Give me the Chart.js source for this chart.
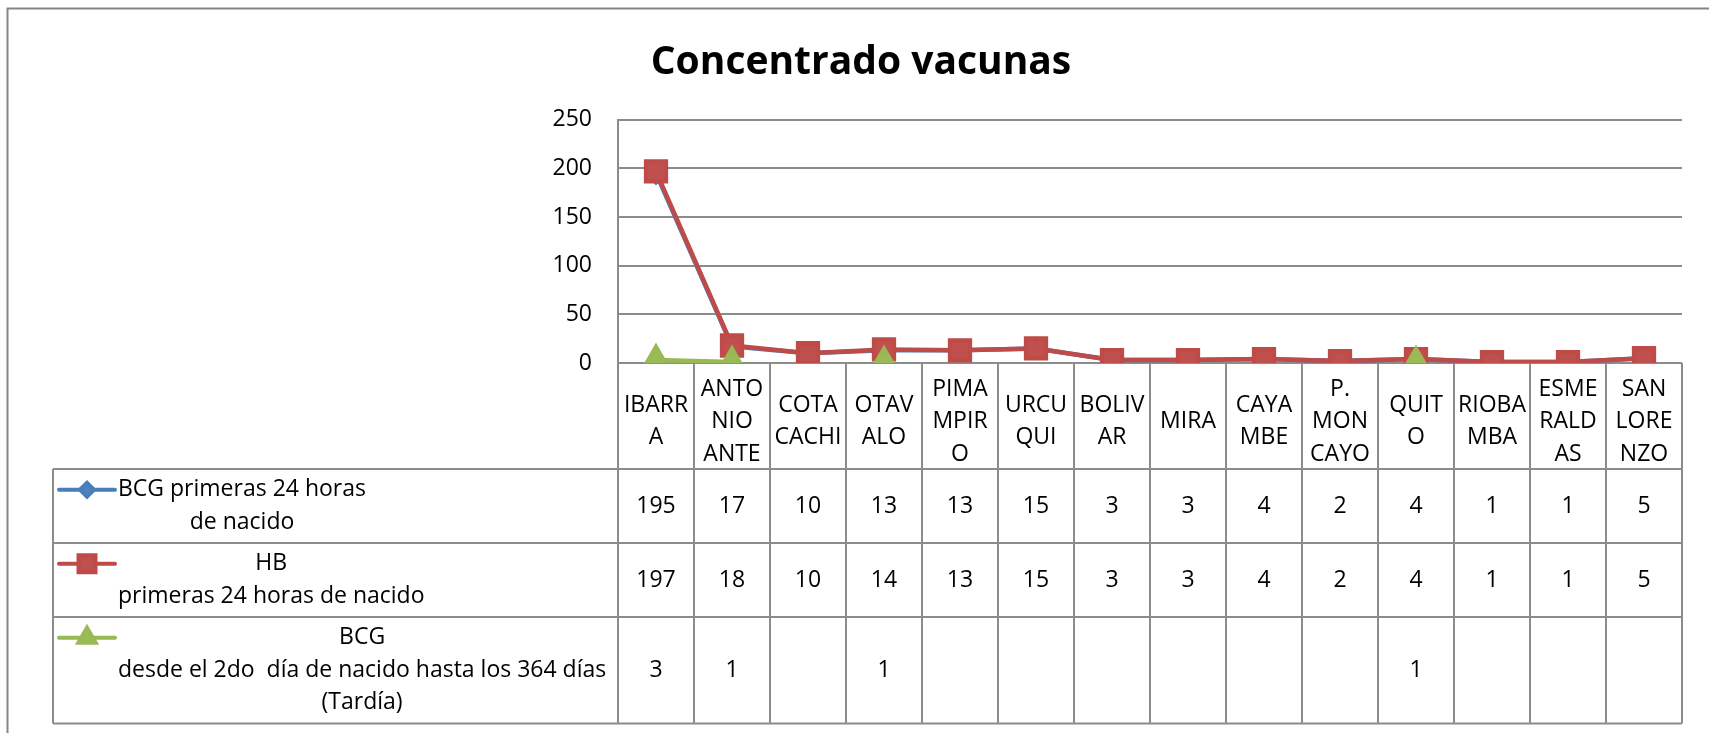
<!DOCTYPE html>
<html>
<head>
<meta charset="utf-8">
<title>Concentrado vacunas</title>
<script src="https://cdn.jsdelivr.net/npm/chart.js@4/dist/chart.umd.min.js"></script>
<style>
  html, body { margin: 0; background: #fff; }
  #wrap { position: relative; width: 1709px; height: 733px; }
</style>
</head>
<body>
<div id="wrap"><canvas id="myChart"></canvas></div>
<script>
// cantones y valores por serie
const cantones = [
  "IBARRA", "ANTONIO ANTE", "COTACACHI", "OTAVALO", "PIMAMPIRO", "URCUQUI", "BOLIVAR",
  "MIRA", "CAYAMBE", "P. MONCAYO", "QUITO", "RIOBAMBA", "ESMERALDAS", "SAN LORENZO"
];
// nombres partidos en lineas como caben en cada celda
const cantonLines = [
  ["IBARR", "A"], ["ANTO", "NIO", "ANTE"], ["COTA", "CACHI"], ["OTAV", "ALO"],
  ["PIMA", "MPIR", "O"], ["URCU", "QUI"], ["BOLIV", "AR"], ["MIRA"], ["CAYA", "MBE"],
  ["P.", "MON", "CAYO"], ["QUIT", "O"], ["RIOBA", "MBA"], ["ESME", "RALD", "AS"], ["SAN", "LORE", "NZO"]
];
const bcg24 = [195, 17, 10, 13, 13, 15, 3, 3, 4, 2, 4, 1, 1, 5];
const hb24 = [197, 18, 10, 14, 13, 15, 3, 3, 4, 2, 4, 1, 1, 5];
const bcgTardia = [3, 1, null, 1, null, null, null, null, null, null, 1, null, null, null];
const seriesNames = [
  ["BCG primeras 24 horas", "de nacido"],
  ["HB", "primeras 24 horas de nacido"],
  ["BCG", "desde el 2do  día de nacido hasta los 364 días", "(Tardía)"]
];
const yTicks = [0, 50, 100, 150, 200, 250];

const FONT = "'Open Sans', sans-serif";
const FONT_SIZE = 23;
const GRID = "#8c8c8c";
const LINE_H = 32.5;

// tabla de datos bajo el eje x, con la clave de cada serie
const dataTable = {
  id: "dataTable",
  beforeDraw(chart) {
    const { ctx, width, height } = chart;
    ctx.save();
    ctx.strokeStyle = "#868686";
    ctx.lineWidth = 2;
    ctx.beginPath();
    ctx.moveTo(7.5, height);
    ctx.lineTo(7.5, 8.5);
    ctx.lineTo(width, 8.5);
    ctx.stroke();
    ctx.restore();
  },
  afterDraw(chart) {
    const { ctx } = chart;
    const x = chart.scales.x;
    const colW = x.width / cantones.length;
    const legendLeft = 53, keyX0 = 59, keyX1 = 115, textLeft = 118;
    const edges = cantones.map((c, i) => x.getPixelForValue(i) - colW / 2).concat([x.right]);

    ctx.save();
    ctx.strokeStyle = GRID;
    ctx.lineWidth = 2;

    // celdas de la fila de cantones
    ctx.beginPath();
    edges.forEach(e => { ctx.moveTo(e, x.top); ctx.lineTo(e, x.bottom); });
    ctx.stroke();

    let top = x.bottom;
    chart.data.datasets.forEach((ds, i) => {
      const lines = seriesNames[i];
      const h = lines.length * LINE_H + 9;
      const mid = top + h / 2;

      ctx.strokeStyle = GRID;
      ctx.lineWidth = 2;
      ctx.beginPath();
      ctx.moveTo(legendLeft, top); ctx.lineTo(x.right, top);
      ctx.moveTo(legendLeft, top + h); ctx.lineTo(x.right, top + h);
      ctx.moveTo(legendLeft, top); ctx.lineTo(legendLeft, top + h);
      edges.forEach(e => { ctx.moveTo(e, top); ctx.lineTo(e, top + h); });
      ctx.stroke();

      // texto de la serie
      ctx.font = `${FONT_SIZE}px ${FONT}`;
      ctx.fillStyle = "#000";
      ctx.textBaseline = "middle";
      ctx.textAlign = "center";
      const blockW = Math.max(...lines.map(l => ctx.measureText(l).width));
      const firstY = mid - (lines.length - 1) / 2 * LINE_H;
      lines.forEach((l, k) => ctx.fillText(l, textLeft + blockW / 2, firstY + k * LINE_H));

      // valores
      ds.data.forEach((v, j) => {
        if (v !== null) ctx.fillText(String(v), x.getPixelForValue(j), mid);
      });

      // clave de la serie
      ctx.strokeStyle = ds.borderColor;
      ctx.lineWidth = 4;
      ctx.lineCap = "round";
      ctx.beginPath();
      ctx.moveTo(keyX0, firstY); ctx.lineTo(keyX1, firstY);
      ctx.stroke();
      ctx.lineCap = "butt";
      ctx.fillStyle = ds.pointBackgroundColor;
      ctx.strokeStyle = ds.pointBorderColor;
      Chart.helpers.drawPoint(ctx, {
        pointStyle: ds.pointStyle, rotation: 0, radius: ds.keyRadius, borderWidth: 1
      }, (keyX0 + keyX1) / 2, firstY);

      top += h;
    });
    ctx.restore();
  }
};

new Chart(document.getElementById("myChart"), {
  type: "line",
  data: {
    labels: cantonLines,
    datasets: [{
      label: seriesNames[0].join(" "),
      data: bcg24,
      borderColor: "#4a7ebb",
      pointBackgroundColor: "#4f81bd",
      pointBorderColor: "#4a7ebb",
      pointStyle: "rectRot",
      pointRadius: 9,
      keyRadius: 7,
      borderWidth: 4.5,
      order: 3
    }, {
      label: seriesNames[1].join(" "),
      data: hb24,
      borderColor: "#be4b48",
      pointBackgroundColor: "#c0504d",
      pointBorderColor: "#be4b48",
      pointStyle: "rect",
      pointRadius: 14,
      keyRadius: 12,
      borderWidth: 4.5,
      order: 2
    }, {
      label: seriesNames[2].join(" "),
      data: bcgTardia,
      borderColor: "#98b954",
      pointBackgroundColor: "#9bbb59",
      pointBorderColor: "#98b954",
      pointStyle: "triangle",
      pointRadius: 13,
      keyRadius: 10,
      borderWidth: 4.5,
      spanGaps: false,
      order: 1
    }]
  },
  options: {
    responsive: true,
    maintainAspectRatio: false,
    animation: false,
    layout: { padding: { left: 40, right: 27, top: 0, bottom: 264 } },
    plugins: {
      legend: { display: false },
      title: {
        display: true,
        text: "Concentrado vacunas",
        color: "#000",
        font: { family: FONT, size: 39, weight: "bold", lineHeight: 1.2 },
        padding: { top: 39, bottom: 34 }
      }
    },
    scales: {
      x: {
        offset: true,
        grid: { display: false },
        border: { display: false },
        ticks: {
          color: "#000",
          autoSkip: false,
          maxRotation: 0,
          crossAlign: "center",
          padding: 18,
          font: { family: FONT, size: FONT_SIZE, lineHeight: LINE_H / FONT_SIZE }
        },
        afterFit: s => { s.height = 106; }
      },
      y: {
        min: yTicks[0],
        max: yTicks[yTicks.length - 1],
        afterBuildTicks: s => { s.ticks = yTicks.map(v => ({ value: v })); },
        grid: { color: GRID, lineWidth: 2, drawTicks: false },
        border: { display: true, color: GRID, width: 2 },
        ticks: {
          color: "#000",
          padding: 26,
          font: { family: FONT, size: FONT_SIZE }
        },
        afterFit: s => { s.width = 578; }
      }
    }
  },
  plugins: [dataTable]
});
</script>
</body>
</html>
